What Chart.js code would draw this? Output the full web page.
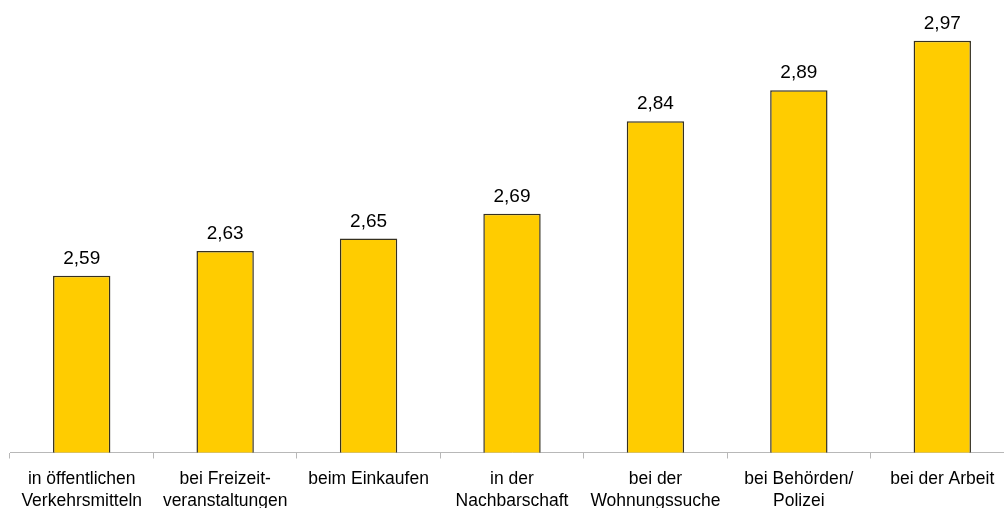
<!DOCTYPE html>
<html>
<head>
<meta charset="utf-8">
<script src="https://cdn.jsdelivr.net/npm/chart.js@4/dist/chart.umd.min.js"></script>
<style>
  html, body { margin: 0; padding: 0; background: #fff; overflow: hidden; }
  #wrap { position: absolute; left: 0; top: 0; width: 1014px; height: 508px; }
</style>
</head>
<body>
<div id="wrap"><canvas id="c"></canvas></div>
<script>
const categories = [
  ['in öffentlichen', 'Verkehrsmitteln'],
  ['bei Freizeit-', 'veranstaltungen'],
  'beim Einkaufen',
  ['in der', 'Nachbarschaft'],
  ['bei der', 'Wohnungssuche'],
  ['bei Behörden/', 'Polizei'],
  'bei der Arbeit'
];
const values = [2.59, 2.63, 2.65, 2.69, 2.84, 2.89, 2.97];
const valueLabels = ['2,59', '2,63', '2,65', '2,69', '2,84', '2,89', '2,97'];

const FONT = '"Liberation Sans", Arial, sans-serif';

// writes the value above each bar
const valueLabelPlugin = {
  id: 'valueLabels',
  afterDatasetsDraw(chart) {
    const ctx = chart.ctx;
    const meta = chart.getDatasetMeta(0);
    ctx.save();
    ctx.fillStyle = '#000';
    ctx.font = '19px ' + FONT;
    ctx.textAlign = 'center';
    ctx.textBaseline = 'alphabetic';
    meta.data.forEach((bar, i) => {
      ctx.fillText(valueLabels[i], bar.x, bar.y - 12);
    });
    ctx.restore();
  }
};

new Chart(document.getElementById('c'), {
  type: 'bar',
  data: {
    labels: categories,
    datasets: [{
      data: values,
      backgroundColor: '#FFCC00',
      borderColor: '#353020',
      borderWidth: 1.5,
      categoryPercentage: 1.0,
      barPercentage: 0.4
    }]
  },
  options: {
    responsive: true,
    maintainAspectRatio: false,
    animation: false,
    layout: { padding: { top: 18.5, left: 10, right: 0, bottom: 0 } },
    plugins: { legend: { display: false }, tooltip: { enabled: false } },
    scales: {
      y: {
        display: false,
        min: 2.304,
        max: 3.006
      },
      x: {
        // fixed band below the plot for the two-line category names
        afterFit(scale) { scale.height = 55.5; },
        grid: {
          offset: true,
          drawOnChartArea: false,
          drawTicks: true,
          tickLength: 6,
          color: '#b8b8b8'
        },
        border: { color: '#b8b8b8', width: 1 },
        ticks: {
          color: '#000',
          font: { family: FONT, size: 17.5, lineHeight: 1.26 },
          padding: 10,
          maxRotation: 0,
          autoSkip: false
        }
      }
    }
  },
  plugins: [valueLabelPlugin]
});
</script>
</body>
</html>
